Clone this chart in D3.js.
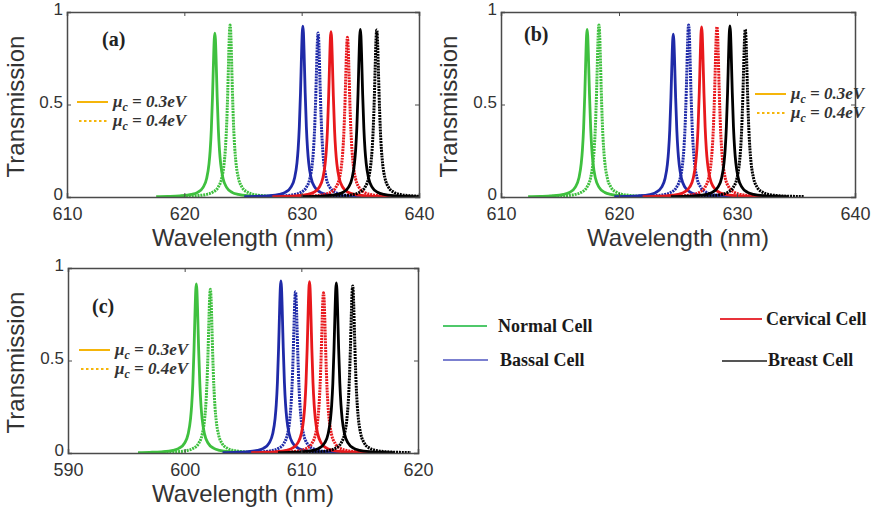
<!DOCTYPE html>
<html>
<head>
<meta charset="utf-8">
<script src="https://cdn.jsdelivr.net/npm/d3@7"></script>
<style>
  html, body { margin: 0; padding: 0; background: #fff; }
  svg { display: block; }
</style>
</head>
<body>
<svg id="chart" width="880" height="510"></svg>
<script>
// ---------------- DATA ----------------
const panelLabels = ["(a)", "(b)", "(c)"];
const xDomains = [[610, 640], [610, 640], [590, 620]];
const xTicksA = [610, 620, 630, 640];
const xTicksB = [610, 620, 630, 640];
const xTicksC = [590, 600, 610, 620];
const yTicks = [0, 0.5, 1];
const yTickLabels = ["0", "0.5", "1"];
const xAxisTitle = "Wavelength (nm)";
const yAxisTitle = "Transmission";

const cells = ["Normal Cell", "Bassal Cell", "Cervical Cell", "Breast Cell"];
const muLabels = ["0.3eV", "0.4eV"];

// Resonance peak wavelength (nm) and peak transmission, per cell
const peakWl03_a = [622.6, 630.1, 632.5, 635.0];
const peakT03_a  = [0.886, 0.924, 0.894, 0.906];
const peakWl04_a = [623.9, 631.4, 633.9, 636.4];
const peakT04_a  = [0.930, 0.886, 0.863, 0.903];

const peakWl03_b = [617.3, 624.6, 627.0, 629.4];
const peakT03_b  = [0.906, 0.880, 0.920, 0.925];
const peakWl04_b = [618.3, 625.9, 628.3, 630.7];
const peakT04_b  = [0.930, 0.930, 0.920, 0.906];

const peakWl03_c = [601.0, 608.25, 610.7, 613.0];
const peakT03_c  = [0.914, 0.930, 0.926, 0.920];
const peakWl04_c = [602.2, 609.5, 611.9, 614.4];
const peakT04_c  = [0.885, 0.872, 0.866, 0.903];

// Peak line shape: offset from resonance (nm) -> fraction of peak
const shapeOffset = [-5, -4, -3, -2, -1.5, -1, -0.7, -0.5, -0.4, -0.3, -0.2, -0.15, -0.1, -0.05, 0,
                     0.05, 0.1, 0.15, 0.2, 0.3, 0.4, 0.5, 0.7, 1, 1.5, 2, 3, 4, 5];
const shapeFrac   = [0.0025, 0.0039, 0.0069, 0.0154, 0.027, 0.059, 0.113, 0.2, 0.281, 0.41, 0.61, 0.735, 0.862, 0.962, 1,
                     0.962, 0.862, 0.735, 0.61, 0.41, 0.281, 0.2, 0.113, 0.059, 0.027, 0.0154, 0.0069, 0.0039, 0.0025];

// ---------------- STYLE ----------------
const cellColors = ["#3fc03f", "#1f2aa8", "#e8181c", "#000000"];
const legendLineColors = ["#4fc86a", "#7b80d0", "#e8323a", "#555555"];
const muColor = "#f5b50a";

const layout = [
  { left: 67,  right: 419, top: 12,  bottom: 197 },
  { left: 501, right: 855, top: 12,  bottom: 197 },
  { left: 68,  right: 418, top: 268, bottom: 453 }
];
const xTicksAll = [xTicksA, xTicksB, xTicksC];
const peaks = [
  { wl03: peakWl03_a, t03: peakT03_a, wl04: peakWl04_a, t04: peakT04_a },
  { wl03: peakWl03_b, t03: peakT03_b, wl04: peakWl04_b, t04: peakT04_b },
  { wl03: peakWl03_c, t03: peakT03_c, wl04: peakWl04_c, t04: peakT04_c }
];
const panelLabelPos = [[102, 46], [524, 41], [92, 313]];
const muLegendPos = [[77, 102], [755, 94], [79, 350]];
const yTitleX = [16, 449, 16];

const svg = d3.select("#chart");

function peakPoints(wl, t) {
  return shapeOffset.map((o, i) => [wl + o, t * shapeFrac[i]]);
}

layout.forEach((L, p) => {
  const x = d3.scaleLinear().domain(xDomains[p]).range([L.left, L.right]);
  const y = d3.scaleLinear().domain([0, 1]).range([L.bottom, L.top]);
  const g = svg.append("g");

  const clipId = "clip" + p;
  g.append("clipPath").attr("id", clipId).append("rect")
    .attr("x", L.left).attr("y", L.top - 5).attr("width", L.right - L.left).attr("height", L.bottom - L.top + 5);

  const line = d3.line().x(d => x(d[0])).y(d => y(d[1])).curve(d3.curveMonotoneX);
  const curves = g.append("g").attr("clip-path", `url(#${clipId})`);
  const P = peaks[p];
  cells.forEach((c, i) => {
    curves.append("path").datum(peakPoints(P.wl03[i], P.t03[i]))
      .attr("d", line).attr("fill", "none").attr("stroke", cellColors[i])
      .attr("stroke-width", 2.8).attr("stroke-linejoin", "round");
    curves.append("path").datum(peakPoints(P.wl04[i], P.t04[i]))
      .attr("d", line).attr("fill", "none").attr("stroke", cellColors[i])
      .attr("stroke-width", 3).attr("stroke-dasharray", "2,0.9");
  });

  // Axes (MATLAB-like inward ticks on all four sides)
  const tickLen = 4;
  const axB = d3.axisBottom(x).tickValues(xTicksAll[p]).tickSize(-tickLen).tickPadding(10).tickFormat(d3.format("d"));
  const axT = d3.axisTop(x).tickValues(xTicksAll[p]).tickSize(-tickLen).tickFormat("");
  const axL = d3.axisLeft(y).tickValues(yTicks).tickSize(-tickLen).tickPadding(4).tickFormat((d, i) => yTickLabels[i]);
  const axR = d3.axisRight(y).tickValues(yTicks).tickSize(-tickLen).tickFormat("");

  const gb = g.append("g").attr("transform", `translate(0,${L.bottom})`).call(axB);
  const gt = g.append("g").attr("transform", `translate(0,${L.top})`).call(axT);
  const gl = g.append("g").attr("transform", `translate(${L.left},0)`).call(axL);
  const gr = g.append("g").attr("transform", `translate(${L.right},0)`).call(axR);
  [gb, gt, gl, gr].forEach(a => {
    a.select(".domain").attr("stroke", "#4a4a4a").attr("stroke-width", 1.5);
    a.selectAll(".tick line").attr("stroke", "#4a4a4a").attr("stroke-width", 1);
    a.selectAll("text").attr("fill", "#333").style("font-family", "'Liberation Sans', Arial, sans-serif").style("font-size", "18px");
  });
  gb.selectAll(".tick text").attr("dy", "0.71em");
  gl.selectAll(".tick text").attr("dy", "0.16em").style("font-size", "17px");

  // axis titles
  g.append("text").attr("x", (L.left + L.right) / 2).attr("y", L.bottom + 49)
    .attr("text-anchor", "middle").attr("fill", "#333")
    .style("font-family", "'Liberation Sans', Arial, sans-serif").style("font-size", "24px")
    .text(xAxisTitle);
  g.append("text")
    .attr("transform", `translate(${yTitleX[p] + 8},${(L.top + L.bottom) / 2 + 2}) rotate(-90)`)
    .attr("text-anchor", "middle").attr("fill", "#333")
    .style("font-family", "'Liberation Sans', Arial, sans-serif").style("font-size", "24px")
    .text(yAxisTitle);

  // panel label
  g.append("text").attr("x", panelLabelPos[p][0]).attr("y", panelLabelPos[p][1])
    .attr("fill", "#222").style("font-family", "'Liberation Serif', 'Times New Roman', serif")
    .style("font-weight", "bold").style("font-size", "20px").text(panelLabels[p]);

  // mu legend
  const [lx, ly] = muLegendPos[p];
  muLabels.forEach((m, k) => {
    const yy = ly + k * 19;
    g.append("line").attr("x1", lx + (k ? 2 : 0)).attr("x2", lx + 31).attr("y1", yy).attr("y2", yy)
      .attr("stroke", muColor).attr("stroke-width", 2)
      .attr("stroke-dasharray", k ? "2.5,2.5" : null);
    const t = g.append("text").attr("x", lx + 36).attr("y", yy + 5)
      .attr("fill", "#333").style("font-family", "'Liberation Serif', 'Times New Roman', serif")
      .style("font-style", "italic").style("font-weight", "bold").style("font-size", "17px");
    t.append("tspan").text("\u03bc");
    t.append("tspan").attr("dy", 4).style("font-size", "12px").text("c");
    t.append("tspan").attr("dy", -4).text(" = " + m);
  });
});

// Bottom-right cell legend
const cellLegendLine = [[443, 487, 326], [443, 488, 360], [720, 762, 319], [722, 767, 361]];
const cellLegendText = [[498, 332], [500, 366], [766, 325], [768, 366]];
cells.forEach((c, i) => {
  const [x1, x2, yy] = cellLegendLine[i];
  svg.append("line").attr("x1", x1).attr("x2", x2).attr("y1", yy).attr("y2", yy)
    .attr("stroke", legendLineColors[i]).attr("stroke-width", 2);
  svg.append("text").attr("x", cellLegendText[i][0]).attr("y", cellLegendText[i][1])
    .attr("fill", "#1a1a1a").style("font-family", "'Liberation Serif', 'Times New Roman', serif")
    .style("font-weight", "bold").style("font-size", "18px").text(c);
});
</script>
</body>
</html>
